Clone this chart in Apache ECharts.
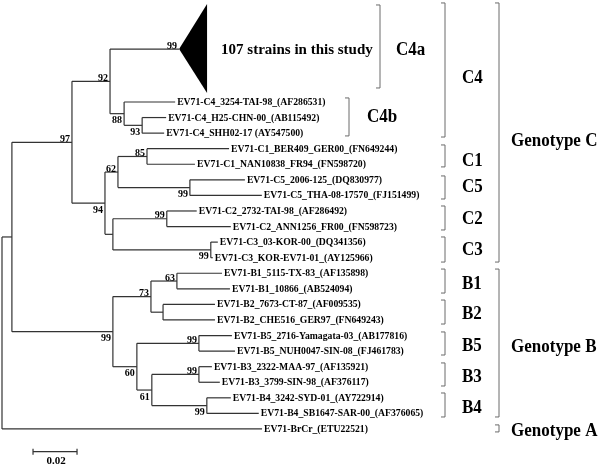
<!DOCTYPE html>
<html><head><meta charset="utf-8">
<script src="https://cdn.jsdelivr.net/npm/echarts@6/dist/echarts.min.js"></script>
<style>html,body{margin:0;padding:0;background:#fff}#chart{width:600px;height:464px}</style>
</head><body><div id="chart"></div>
<script>
// ---------------- data ----------------
// leaves, top to bottom (row index = order)
const taxa = [
  'EV71-C4_3254-TAI-98_(AF286531)',
  'EV71-C4_H25-CHN-00_(AB115492)',
  'EV71-C4_SHH02-17 (AY547500)',
  'EV71-C1_BER409_GER00_(FN649244)',
  'EV71-C1_NAN10838_FR94_(FN598720)',
  'EV71-C5_2006-125_(DQ830977)',
  'EV71-C5_THA-08-17570_(FJ151499)',
  'EV71-C2_2732-TAI-98_(AF286492)',
  'EV71-C2_ANN1256_FR00_(FN598723)',
  'EV71-C3_03-KOR-00_(DQ341356)',
  'EV71-C3_KOR-EV71-01_(AY125966)',
  'EV71-B1_5115-TX-83_(AF135898)',
  'EV71-B1_10866_(AB524094)',
  'EV71-B2_7673-CT-87_(AF009535)',
  'EV71-B2_CHE516_GER97_(FN649243)',
  'EV71-B5_2716-Yamagata-03_(AB177816)',
  'EV71-B5_NUH0047-SIN-08_(FJ461783)',
  'EV71-B3_2322-MAA-97_(AF135921)',
  'EV71-B3_3799-SIN-98_(AF376117)',
  'EV71-B4_3242-SYD-01_(AY722914)',
  'EV71-B4_SB1647-SAR-00_(AF376065)',
  'EV71-BrCr_(ETU22521)'
];
const taxonParent = ['C4b','H25SHH','H25SHH','C1','C1','C5','C5','C2','C2','C3','C3',
  'B1','B1','B2','B2','B5','B5','B3','B3','B4','B4','root'];
const taxonBranch = [0.0232,0.0109,0.0100,0.0373,0.0218,0.0250,0.0327,0.0136,0.0291,0.0032,0.0009,
  0.0205,0.0241,0.0236,0.0236,0.0150,0.0164,0.0059,0.0095,0.0109,0.0236,0.1182];

// internal nodes (parents listed before children)
const nodeIds    = ['root','CB','C','C4','C4a','C4b','H25SHH','C123','C15','C1','C5','C23','C2','C3',
  'B','B12','B1','B2','B345','B5','B34','B3','B4'];
const nodeParent = [null,'root','CB','C','C4','C4','C4b','C','C123','C15','C15','C123','C23','C23',
  'CB','B','B12','B12','B','B345','B345','B34','B34'];
const nodeBranch = [0,0.0045,0.0273,0.0173,0.0314,0.0064,0.0082,0.0150,0.0059,0.0132,0.0327,0.0036,0.0245,0.0445,
  0.0459,0.0173,0.0118,0.0055,0.0109,0.0282,0.0068,0.0214,0.0250];
const nodeSupport = [null,null,97,92,99,88,93,94,62,85,99,null,99,99,
  99,73,63,null,60,99,61,99,99];
const supportSide = ['','','a','a','a','b','b','b','a','a','b','','a','b',
  'b','a','a','','b','a','b','a','b'];

// collapsed clade (C4a)
const collapsedLabel = '107 strains in this study';
const collapsedNode = 'C4a';
const collapsedDepth = 0.0127;
const collapsedRowTop = -6.3;
const collapsedRowBottom = -0.58;
const collapsedRowCenter = -3.4;

// clade brackets
const subgroupNames = ['C4a','C4b','C4','C1','C5','C2','C3','B1','B2','B5','B3','B4'];
const subgroupRowStart = [-6.23,-0.26,-6.36,2.76,4.75,6.68,8.67,10.73,12.72,14.77,16.76,18.69];
const subgroupRowEnd   = [-0.90, 2.18, 2.25,4.17,6.23,8.22,10.28,12.27,14.26,16.25,18.24,20.23];
const subgroupLabelRow = [-3.34,0.96,-1.54,3.79,5.49,7.51,9.50,11.69,13.62,15.67,17.69,19.65];
const genotypeNames = ['Genotype C','Genotype B','Genotype A'];
const genotypeRowStart = [-6.36,10.73,20.74];
const genotypeRowEnd   = [10.28,20.23,21.19];
const genotypeLabelRow = [2.50,15.77,21.13];

// scale bar
const scaleBarLength = 0.02;
const scaleBarLabel = '0.02';

// ---------------- layout / style ----------------
const subgroupBracketX = [380,349,445,445,445,445,445,445,445,445,445,445];
const subgroupLabelX   = [396,367,462,462,462,462,462,462,462,462,462,462];
const genotypeBracketX = 499, genotypeLabelX = 511;
const serif = '"Liberation Serif","Times New Roman",serif';
const lineColor = '#333';
const bracketColor = '#6a6a6a';
const bigScaleY = 1.1;

// ---------------- tree layout ----------------
const X = {}, Y = {}, kids = {};
nodeIds.forEach((id, i) => {
  const p = nodeParent[i];
  X[id] = p == null ? 0 : X[p] + nodeBranch[i];
  kids[id] = [];
  if (p != null) kids[p].push(id);
});
taxa.forEach((t, i) => {
  const id = 't' + i;
  X[id] = X[taxonParent[i]] + taxonBranch[i];
  Y[id] = i;
  kids[taxonParent[i]].push(id);
});
Y[collapsedNode] = collapsedRowCenter;
for (let i = nodeIds.length - 1; i >= 0; i--) {
  const id = nodeIds[i];
  if (id === collapsedNode) continue;
  const ys = kids[id].map(k => Y[k]);
  Y[id] = (Math.min(...ys) + Math.max(...ys)) / 2;
}
const segments = [];
const parentOf = {};
nodeIds.forEach((id, i) => { parentOf[id] = nodeParent[i]; });
taxa.forEach((t, i) => { parentOf['t' + i] = taxonParent[i]; });
Object.keys(parentOf).forEach(id => {
  const p = parentOf[id];
  if (p != null) segments.push([X[p], Y[id], X[id], Y[id]]);
});
nodeIds.forEach(id => {
  if (!kids[id].length) return;
  const ys = kids[id].map(k => Y[k]);
  segments.push([X[id], Math.min(...ys), X[id], Math.max(...ys)]);
});

const leafData = taxa.map((t, i) => [X['t' + i], i]);
const supportIdx = [];
nodeIds.forEach((id, i) => { if (nodeSupport[i] != null) supportIdx.push(i); });
const supportData = supportIdx.map(i => [X[nodeIds[i]], Y[nodeIds[i]]]);

const chart = echarts.init(document.getElementById('chart'), null, {renderer: 'canvas'});
const silentCommon = {silent: true, animation: false};

function bigText(text, x, y) {
  return {type: 'text', x: x, y: y, scaleY: bigScaleY,
    style: {text: text, font: 'bold 17px ' + serif, fill: '#000', align: 'left', verticalAlign: 'middle'}};
}

chart.setOption({
  backgroundColor: '#fff',
  animation: false,
  grid: {left: 2, right: 0, top: 0, bottom: 0},
  xAxis: {type: 'value', min: 0, max: 0.2718, show: false},
  yAxis: {type: 'value', min: -6.55, max: 23.25, inverse: true, show: false},
  series: [
    Object.assign({
      type: 'custom', name: 'branches', data: segments,
      encode: {x: [0, 2], y: [1, 3]},
      renderItem: (params, api) => {
        const a = api.coord([api.value(0), api.value(1)]);
        const b = api.coord([api.value(2), api.value(3)]);
        return {type: 'line', shape: {x1: a[0], y1: a[1], x2: b[0], y2: b[1]},
          style: {stroke: lineColor, lineWidth: 1.2}};
      }
    }, silentCommon),
    Object.assign({
      type: 'custom', name: 'collapsed',
      data: [[X[collapsedNode], collapsedRowCenter, X[collapsedNode] + collapsedDepth, collapsedRowTop, collapsedRowBottom]],
      encode: {x: [0, 2], y: [1, 3, 4]},
      renderItem: (params, api) => {
        const apex = api.coord([api.value(0), api.value(1)]);
        const top = api.coord([api.value(2), api.value(3)]);
        const bot = api.coord([api.value(2), api.value(4)]);
        return {type: 'group', children: [
          {type: 'polygon', shape: {points: [apex, top, bot]}, style: {fill: '#000'}},
          {type: 'text', x: top[0] + 14, y: apex[1] + 1,
            style: {text: collapsedLabel, font: 'bold 15px ' + serif, fill: '#000',
              align: 'left', verticalAlign: 'middle'}}
        ]};
      }
    }, silentCommon),
    Object.assign({
      type: 'custom', name: 'leaves', data: leafData,
      encode: {x: 0, y: 1},
      renderItem: (params, api) => {
        const p = api.coord([api.value(0), api.value(1)]);
        return {type: 'text', x: p[0] + 2, y: p[1] + 0.5,
          style: {text: taxa[params.dataIndex], font: 'bold 9.7px ' + serif, fill: '#000',
            align: 'left', verticalAlign: 'middle'}};
      }
    }, silentCommon),
    Object.assign({
      type: 'custom', name: 'support', data: supportData,
      encode: {x: 0, y: 1},
      renderItem: (params, api) => {
        const i = supportIdx[params.dataIndex];
        const p = api.coord([api.value(0), api.value(1)]);
        const above = supportSide[i] === 'a';
        return {type: 'text', x: p[0] - 2, y: p[1] + 2,
          style: {text: String(nodeSupport[i]), font: 'bold 10px ' + serif, fill: '#000',
            align: 'right', verticalAlign: above ? 'bottom' : 'top'}};
      }
    }, silentCommon),
    Object.assign({
      type: 'custom', name: 'subgroups',
      data: subgroupNames.map((n, i) => [subgroupRowStart[i], subgroupRowEnd[i], subgroupLabelRow[i]]),
      encode: {y: [0, 1, 2]},
      renderItem: (params, api) => {
        const i = params.dataIndex;
        const y1 = api.coord([0, api.value(0)])[1];
        const y2 = api.coord([0, api.value(1)])[1];
        const yl = api.coord([0, api.value(2)])[1];
        const bx = subgroupBracketX[i];
        return {type: 'group', children: [
          {type: 'polyline', shape: {points: [[bx - 4, y1], [bx, y1], [bx, y2], [bx - 4, y2]]},
            style: {stroke: bracketColor, lineWidth: 1, fill: null}},
          bigText(subgroupNames[i], subgroupLabelX[i], yl)
        ]};
      }
    }, silentCommon),
    Object.assign({
      type: 'custom', name: 'genotypes',
      data: genotypeNames.map((n, i) => [genotypeRowStart[i], genotypeRowEnd[i], genotypeLabelRow[i]]),
      encode: {y: [0, 1, 2]},
      renderItem: (params, api) => {
        const i = params.dataIndex;
        const y1 = api.coord([0, api.value(0)])[1];
        const y2 = api.coord([0, api.value(1)])[1];
        const yl = api.coord([0, api.value(2)])[1];
        const bx = genotypeBracketX;
        return {type: 'group', children: [
          {type: 'polyline', shape: {points: [[bx - 4, y1], [bx, y1], [bx, y2], [bx - 4, y2]]},
            style: {stroke: bracketColor, lineWidth: 1, fill: null}},
          bigText(genotypeNames[i], genotypeLabelX, yl)
        ]};
      }
    }, silentCommon),
    Object.assign({
      type: 'custom', name: 'scale',
      data: [[0.0141, 22.46, 0.0141 + scaleBarLength]],
      encode: {x: [0, 2], y: 1},
      renderItem: (params, api) => {
        const a = api.coord([api.value(0), api.value(1)]);
        const b = api.coord([api.value(2), api.value(1)]);
        return {type: 'group', children: [
          {type: 'line', shape: {x1: a[0], y1: a[1], x2: b[0], y2: b[1]}, style: {stroke: lineColor, lineWidth: 1.2}},
          {type: 'line', shape: {x1: a[0], y1: a[1] - 3, x2: a[0], y2: a[1] + 3}, style: {stroke: lineColor, lineWidth: 1.2}},
          {type: 'line', shape: {x1: b[0], y1: b[1] - 3, x2: b[0], y2: b[1] + 3}, style: {stroke: lineColor, lineWidth: 1.2}},
          {type: 'text', x: (a[0] + b[0]) / 2 + 1, y: a[1] + 9,
            style: {text: scaleBarLabel, font: 'bold 11px ' + serif, fill: '#000',
              align: 'center', verticalAlign: 'middle'}}
        ]};
      }
    }, silentCommon)
  ]
});
</script>
</body></html>
